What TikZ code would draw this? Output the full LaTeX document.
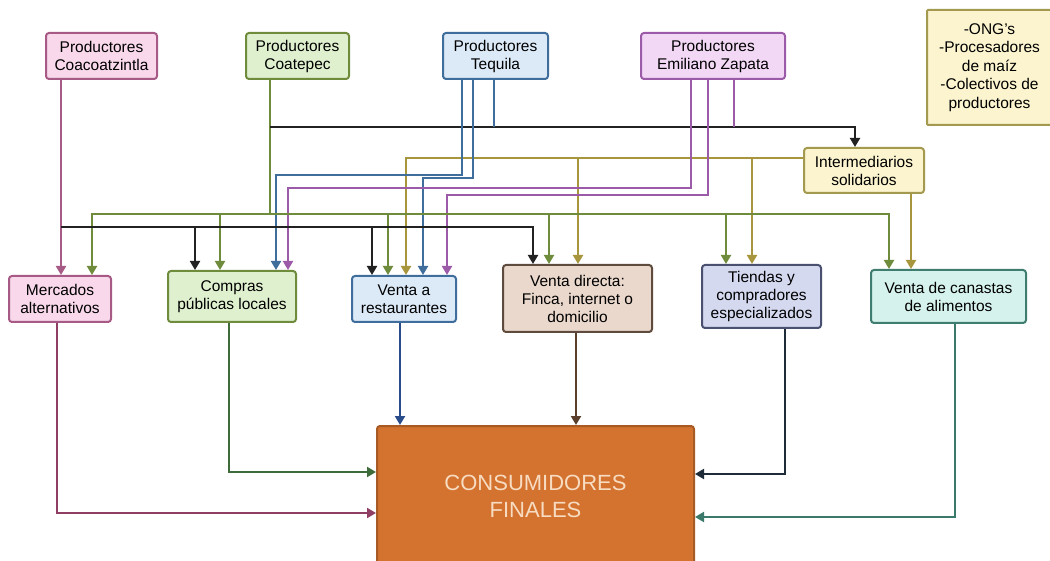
\documentclass[tikz,border=0pt]{standalone}
\usepackage{fontspec}
\setmainfont{Liberation Sans}
\usetikzlibrary{arrows.meta, positioning, calc}

\definecolor{pinkfill}{HTML}{F8D8EA}
\definecolor{pinkline}{HTML}{A65A85}
\definecolor{greenfill}{HTML}{DFF0CF}
\definecolor{greenline}{HTML}{6E8C3C}
\definecolor{bluefill}{HTML}{DCEAF8}
\definecolor{blueline}{HTML}{3F6E9C}
\definecolor{purplefill}{HTML}{F3D8F6}
\definecolor{purpleline}{HTML}{9C5BA8}
\definecolor{yellowfill}{HTML}{FBF4CF}
\definecolor{yellowline}{HTML}{A39A50}
\definecolor{olivewire}{HTML}{A8963F}
\definecolor{tanfill}{HTML}{EAD8CC}
\definecolor{tanline}{HTML}{5E4B3E}
\definecolor{slatefill}{HTML}{D4D9F0}
\definecolor{slateline}{HTML}{4A5170}
\definecolor{tealfill}{HTML}{D5F2EC}
\definecolor{tealline}{HTML}{3F7D70}
\definecolor{consfill}{HTML}{D4722F}
\definecolor{consline}{HTML}{A85A25}
\definecolor{constext}{HTML}{F7DCC2}
\definecolor{blackwire}{HTML}{222222}
\definecolor{mercwire}{HTML}{8E3F63}
\definecolor{compwire}{HTML}{3E6B3A}
\definecolor{restwire}{HTML}{2B4C8A}
\definecolor{direwire}{HTML}{5A3F2C}
\definecolor{tiendwire}{HTML}{1E2B38}
\definecolor{canawire}{HTML}{3B7A6A}

\tikzset{
  actor/.style={draw, rounded corners=3pt, line width=2pt, align=center, inner sep=0pt,
    font=\fontsize{15.5}{18}\selectfont},
  link/.style={line width=2pt, -{Triangle[width=10pt,length=9pt]}},
  feed/.style={line width=2pt}
}

\begin{document}
\begin{tikzpicture}[x=1pt, y=-1pt]
  \useasboundingbox (0,0) rectangle (1050,561);
  \clip (0,0) rectangle (1050,561);

  % Producers
  \node[actor, fill=pinkfill, draw=pinkline, minimum width=111, minimum height=46] (coaco) at (101.5,56) {Productores\\Coacoatzintla};
  \node[actor, fill=greenfill, draw=greenline, minimum width=103, minimum height=46] (coate) at (297.5,56) {Productores\\Coatepec};
  \node[actor, fill=bluefill, draw=blueline, minimum width=105, minimum height=46] (tequila) at (495.5,56) {Productores\\Tequila};
  \node[actor, fill=purplefill, draw=purpleline, minimum width=144, minimum height=46] (zapata) at (713,56) {Productores\\Emiliano Zapata};
  \node[actor, rounded corners=1pt, fill=yellowfill, draw=yellowline, minimum width=125, minimum height=115,
    font=\fontsize{15.5}{18.5}\selectfont] (ong) at (989.5,67.5) {-ONG's\\-Procesadores\\de maíz\\-Colectivos de\\productores};
  \node[actor, fill=yellowfill, draw=yellowline, minimum width=120, minimum height=45] (inter) at (864,170.5) {Intermediarios\\solidarios};

  % Channels
  \node[actor, fill=pinkfill, draw=pinkline, minimum width=102, minimum height=46] (mercados) at (60,299) {Mercados\\alternativos};
  \node[actor, fill=greenfill, draw=greenline, minimum width=128, minimum height=51] (compras) at (232,296.5) {Compras\\públicas locales};
  \node[actor, fill=bluefill, draw=blueline, minimum width=104, minimum height=46] (restaur) at (404,299) {Venta a\\restaurantes};
  \node[actor, fill=tanfill, draw=tanline, minimum width=149, minimum height=67] (directa) at (577.5,298.5) {Venta directa:\\Finca, internet o\\domicilio};
  \node[actor, fill=slatefill, draw=slateline, minimum width=119, minimum height=63] (tiendas) at (761.5,296.5) {Tiendas y\\compradores\\especializados};
  \node[actor, fill=tealfill, draw=tealline, minimum width=155, minimum height=53] (canastas) at (948.5,296.5) {Venta de canastas\\de alimentos};

  % Final consumers
  \node[actor, fill=consfill, draw=consline, text=constext, minimum width=317, minimum height=140,
    font=\fontsize{22}{27}\selectfont] (consum) at (535.5,496) {CONSUMIDORES\\FINALES};

  % Buses
  \coordinate (kbus) at (270,127);
  \coordinate (gbus) at (270,214);
  \coordinate (dbus) at (61,227);
  \coordinate (obus) at (inter.west |- 0,158);

  % Coatepec and the black bus to Intermediarios
  \draw[feed, greenline] (coate.south -| gbus) -- (gbus);
  \draw[link, blackwire] (kbus) -| (inter.north -| 855,0);
  \draw[feed, blueline] (tequila.south -| 494,0) -- (kbus -| 494,0);
  \draw[feed, purpleline] (zapata.south -| 734,0) -- (kbus -| 734,0);

  % Intermediarios
  \draw[link, olivewire] (obus) -| (restaur.north -| 406,0);
  \foreach \x/\to in {578/directa, 752/tiendas}
    \draw[link, olivewire] (obus -| \x,0) -- (\to.north -| \x,0);
  \draw[link, olivewire] (inter.south -| 911,0) -- (canastas.north -| 911,0);

  % Tequila and Emiliano Zapata
  \draw[link, blueline] (tequila.south -| 462,0) -- (462,175) -| (compras.north -| 276,0);
  \draw[link, blueline] (tequila.south -| 473,0) -- (473,178) -| (restaur.north -| 423,0);
  \draw[link, purpleline] (zapata.south -| 691,0) -- (691,188) -| (compras.north -| 288,0);
  \draw[link, purpleline] (zapata.south -| 708,0) -- (708,195) -| (restaur.north -| 447,0);

  % Green bus
  \draw[link, greenline] (gbus) -| (mercados.north -| 92,0);
  \draw[link, greenline] (gbus) -| (canastas.north -| 889,0);
  \foreach \x/\to in {220/compras, 388/restaur, 549/directa, 726/tiendas}
    \draw[link, greenline] (gbus -| \x,0) -- (\to.north -| \x,0);

  % Coacoatzintla and the black bus
  \draw[link, pinkline] (coaco.south -| dbus) -- (mercados.north -| dbus);
  \draw[link, blackwire] (dbus) -| (directa.north -| 533,0);
  \foreach \x/\to in {195/compras, 372/restaur}
    \draw[link, blackwire] (dbus -| \x,0) -- (\to.north -| \x,0);

  % To the final consumers
  \draw[link, mercwire] (mercados.south -| 57,0) |- (consum.west |- 0,513);
  \draw[link, compwire] (compras.south -| 229,0) |- (consum.west |- 0,472);
  \draw[link, restwire] (restaur.south -| 400,0) -- (consum.north -| 400,0);
  \draw[link, direwire] (directa.south -| 576,0) -- (consum.north -| 576,0);
  \draw[link, tiendwire] (tiendas.south -| 785,0) |- (consum.east |- 0,474);
  \draw[link, canawire] (canastas.south -| 955,0) |- (consum.east |- 0,517);
\end{tikzpicture}
\end{document}
